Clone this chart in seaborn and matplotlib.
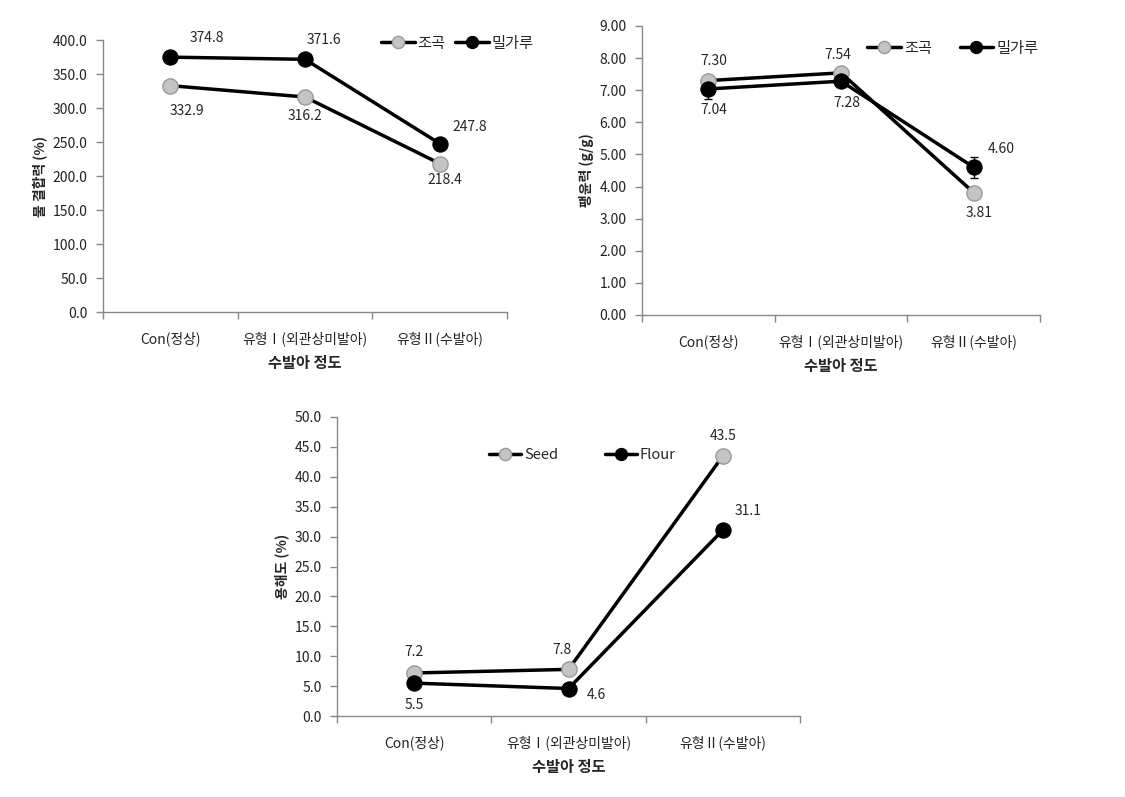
import numpy as np
import pandas as pd
import seaborn as sns
import matplotlib.pyplot as plt
from matplotlib.ticker import FixedLocator

# categories and series values
categories = ["Con(정상)", "유형Ⅰ(외관상미발아)", "유형Ⅱ(수발아)"]

wbc_seed = [332.9, 316.2, 218.4]
wbc_flour = [374.8, 371.6, 247.8]

swell_seed = [7.30, 7.54, 3.81]
swell_flour = [7.04, 7.28, 4.60]
swell_seed_err = [0.18, 0.05, 0.05]
swell_flour_err = [0.30, 0.08, 0.33]

sol_seed = [7.2, 7.8, 43.5]
sol_flour = [5.5, 4.6, 31.1]

sns.set_style("white")
plt.rcParams['font.family'] = ['Noto Sans CJK KR', 'DejaVu Sans']

fig = plt.figure(figsize=(11.25, 7.97), dpi=100)
ax1 = fig.add_axes([0.0916, 0.6085, 0.359, 0.3413])
ax2 = fig.add_axes([0.5707, 0.6048, 0.3538, 0.3626])
ax3 = fig.add_axes([0.2996, 0.1016, 0.4116, 0.3752])

seed_style = dict(color="black", marker="o", markersize=11, markerfacecolor="#c4c4c4",
                  markeredgecolor="#9a9a9a", markeredgewidth=1.0, linewidth=2.5)
flour_style = dict(color="black", marker="o", markersize=11, markerfacecolor="black",
                   markeredgecolor="black", linewidth=2.5)


def draw(ax, seed, flour, names, ymax, step, fmt, ylabel):
    df = pd.DataFrame({"cat": categories * 2,
                       "value": list(seed) + list(flour),
                       "kind": [names[0]] * 3 + [names[1]] * 3})
    x = np.arange(len(categories))
    sns.lineplot(data=df[df.kind == names[0]], x="cat", y="value", ax=ax,
                 label=names[0], **seed_style)
    sns.lineplot(data=df[df.kind == names[1]], x="cat", y="value", ax=ax,
                 label=names[1], **flour_style)
    ax.set_xlim(-0.5, 2.5)
    ax.set_ylim(0, ymax)
    ticks = np.arange(0, ymax + step / 2, step)
    ax.set_yticks(ticks)
    ax.set_yticklabels([fmt.format(v) for v in ticks])
    ax.set_xticks(x)
    ax.set_xticklabels(categories)
    ax.xaxis.set_minor_locator(FixedLocator([-0.5, 0.5, 1.5, 2.5]))
    ax.tick_params(axis="x", which="major", bottom=True, length=0, pad=14,
                   labelsize=10, colors="#222222")
    ax.tick_params(axis="x", which="minor", bottom=True, length=5, width=1,
                   color="#888888", direction="out")
    ax.tick_params(axis="y", left=True, length=5, width=1, color="#888888", direction="out",
                   labelsize=10, labelcolor="#222222", pad=6)
    for s in ["top", "right"]:
        ax.spines[s].set_visible(False)
    for s in ["left", "bottom"]:
        ax.spines[s].set_color("#888888")
        ax.spines[s].set_linewidth(1)
    ax.set_xlabel("수발아 정도", fontsize=11, fontweight="bold", labelpad=6)
    ax.set_ylabel(ylabel, fontsize=10, fontweight="bold", labelpad=4)
    return x


x = draw(ax1, wbc_seed, wbc_flour, ["조곡", "밀가루"], 400, 50, "{:.1f}", "물 결합력 (%)")
ax1.legend(loc="upper right", bbox_to_anchor=(1.1, 1.07), ncol=2, frameon=False,
           fontsize=11, handlelength=2.2, handletextpad=0.2, columnspacing=0.6,
           markerscale=0.8)
seed_off = [(12, -18), (0, -14), (4, -12)]
flour_off = [(26, 14), (14, 14), (22, 12)]
for i in range(3):
    ax1.annotate(f"{wbc_seed[i]:.1f}", (x[i], wbc_seed[i]), xytext=seed_off[i],
                 textcoords="offset points", ha="center", va="center", fontsize=10)
    ax1.annotate(f"{wbc_flour[i]:.1f}", (x[i], wbc_flour[i]), xytext=flour_off[i],
                 textcoords="offset points", ha="center", va="center", fontsize=10)

x = draw(ax2, swell_seed, swell_flour, ["조곡", "밀가루"], 9, 1, "{:.2f}", "팽윤력 (g/g)")
ax2.errorbar(x, swell_seed, yerr=swell_seed_err, fmt="none", ecolor="black",
             elinewidth=1, capsize=3, zorder=1)
ax2.errorbar(x, swell_flour, yerr=swell_flour_err, fmt="none", ecolor="black",
             elinewidth=1, capsize=3, zorder=1)
ax2.legend(loc="upper right", bbox_to_anchor=(1.03, 1.0), ncol=2, frameon=False,
           fontsize=11, handlelength=2.2, handletextpad=0.2, columnspacing=1.8,
           markerscale=0.8)
seed_off = [(4, 14), (-2, 13), (4, -15)]
flour_off = [(4, -15), (4, -16), (20, 13)]
for i in range(3):
    ax2.annotate(f"{swell_seed[i]:.2f}", (x[i], swell_seed[i]), xytext=seed_off[i],
                 textcoords="offset points", ha="center", va="center", fontsize=10)
    ax2.annotate(f"{swell_flour[i]:.2f}", (x[i], swell_flour[i]), xytext=flour_off[i],
                 textcoords="offset points", ha="center", va="center", fontsize=10)

x = draw(ax3, sol_seed, sol_flour, ["Seed", "Flour"], 50, 5, "{:.1f}", "용해도 (%)")
ax3.legend(loc="upper left", bbox_to_anchor=(0.3, 0.94), ncol=2, frameon=False,
           fontsize=10.5, handlelength=2.2, handletextpad=0.2, columnspacing=3.2,
           markerscale=0.8)
seed_off = [(0, 15), (-5, 14), (0, 14)]
flour_off = [(0, -16), (20, -5), (18, 14)]
for i in range(3):
    ax3.annotate(f"{sol_seed[i]:.1f}", (x[i], sol_seed[i]), xytext=seed_off[i],
                 textcoords="offset points", ha="center", va="center", fontsize=10)
    ax3.annotate(f"{sol_flour[i]:.1f}", (x[i], sol_flour[i]), xytext=flour_off[i],
                 textcoords="offset points", ha="center", va="center", fontsize=10)

fig.savefig("out.png", dpi=100, facecolor="white")
